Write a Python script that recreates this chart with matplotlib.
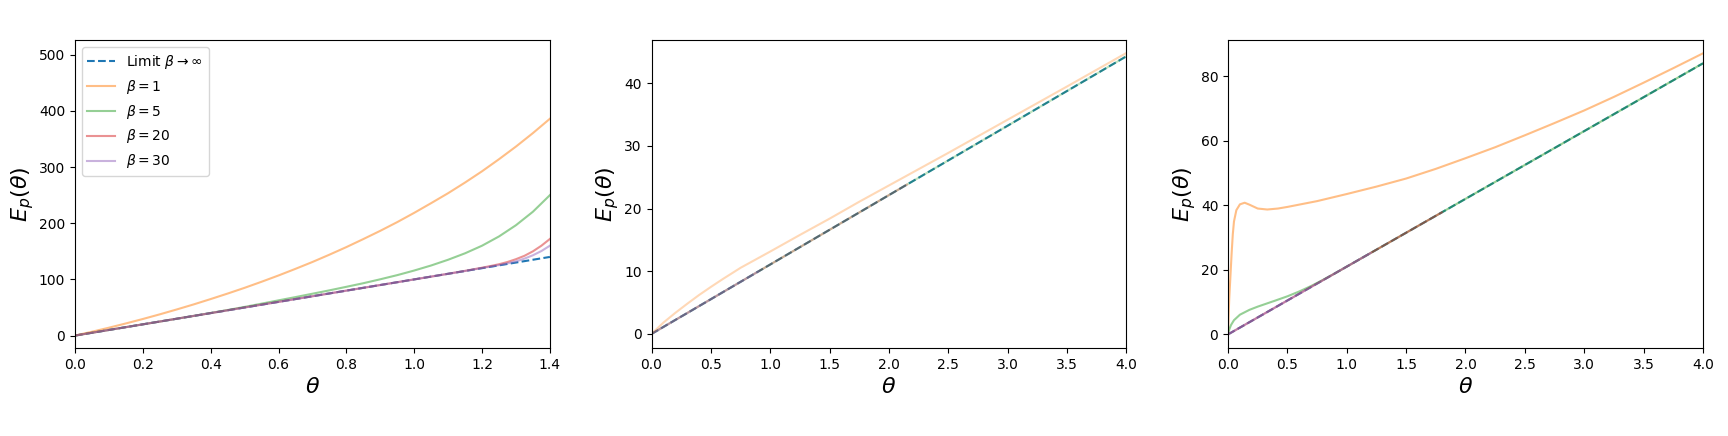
import numpy as np
import matplotlib
matplotlib.use('Agg')
import matplotlib.pyplot as plt

#==================== panel 1 : theta in [0, 1.4]
theta1       = [0.0, 0.05, 0.1, 0.15, 0.2, 0.25, 0.3, 0.35, 0.4, 0.45, 0.5, 0.55, 0.6, 0.65,
                0.7, 0.75, 0.8, 0.85, 0.9, 0.95, 1.0, 1.05, 1.1, 1.15, 1.2, 1.25, 1.3, 1.35, 1.4]
limit1       = [0, 5, 10, 15, 20, 25, 30, 35, 40, 45, 50, 55, 60, 65,
                70, 75, 80, 85, 90, 95, 100, 105, 110, 115, 120, 125, 130, 135, 140]
beta1_p1     = [0, 6.8, 14, 21.6, 29.5, 37.8, 46.5, 55.5, 65, 74.8, 85, 95.8, 107, 118.8,
                131, 144, 157.5, 171.8, 186.5, 202, 218.5, 235.8, 253.5, 272.5, 292.5, 314, 336.5, 360.5, 386]
beta5_p1     = [0, 5, 10, 15, 20, 25, 30, 35, 40.2, 45.5, 51, 56.8, 62.7, 68.5,
                74.5, 80.5, 86.8, 93.2, 100.2, 107.6, 115.8, 124.8, 135, 146.5, 160, 176.5, 196.5, 220.5, 250]
theta1_tail  = [0.0, 0.2, 0.4, 0.6, 0.8, 1.0, 1.1, 1.15, 1.2, 1.225, 1.25, 1.275, 1.3, 1.325, 1.35, 1.375, 1.4]
beta20_p1    = [0, 20, 40, 60, 80, 100, 110, 115.2, 120.8, 123.8, 127, 131, 136, 142, 150, 160, 172]
beta30_p1    = [0, 20, 40, 60, 80, 100, 110, 115, 120.3, 122.8, 125.5, 128.5, 132, 137, 143, 150.5, 160]

#==================== panel 2 : theta in [0, 4]
theta2       = [0.0, 0.05, 0.1, 0.2, 0.3, 0.4, 0.5, 0.6, 0.75, 1.0, 1.25, 1.5, 1.75, 2.0,
                2.5, 3.0, 3.5, 4.0]
limit2       = [0, 0.55, 1.11, 2.22, 3.32, 4.43, 5.54, 6.65, 8.31, 11.08, 13.85, 16.62, 19.39, 22.16,
                27.7, 33.24, 38.78, 44.32]
beta1_p2     = [0, 0.9, 1.8, 3.35, 4.8, 6.2, 7.5, 8.75, 10.55, 13.15, 15.8, 18.4, 21.1, 23.7,
                28.9, 34.2, 39.5, 44.85]
theta2_b20   = [0.0, 0.5, 1.0, 1.5, 2.0, 2.15]
beta20_p2    = [0, 5.54, 11.08, 16.62, 22.16, 23.82]
theta2_b30   = [0.0, 0.3, 0.6, 0.9]
beta30_p2    = [0, 3.32, 6.65, 9.97]

#==================== panel 3 : theta in [0, 4]
theta3       = [0.0, 0.5, 1.0, 1.5, 2.0, 2.5, 3.0, 3.5, 4.0]
limit3       = [0, 10.5, 21, 31.5, 42, 52.5, 63, 73.5, 84]
theta3_b1    = [0.0, 0.005, 0.01, 0.02, 0.03, 0.04, 0.05, 0.07, 0.1, 0.14, 0.18, 0.25,
                0.33, 0.42, 0.5, 0.75, 1.0, 1.25, 1.5, 1.75, 2.0, 2.25, 2.5, 2.75,
                3.0, 3.25, 3.5, 3.75, 4.0]
beta1_p3     = [0, 6, 11, 18, 25, 31, 35, 38.5, 40.3, 40.8, 40.2, 39.0,
                38.7, 39.0, 39.5, 41.3, 43.5, 45.8, 48.3, 51.3, 54.6, 58.0, 61.7, 65.5,
                69.4, 73.6, 78.0, 82.5, 87.1]
theta3_b5    = [0.0, 0.01, 0.025, 0.05, 0.1, 0.18, 0.25, 0.4, 0.5, 0.6, 0.7,
                0.8, 0.9, 1.0, 1.5, 2.0, 2.5, 3.0, 3.5, 4.0]
beta5_p3     = [0, 1.5, 2.9, 4.4, 6.1, 7.6, 8.6, 10.5, 11.8, 13.3, 15.0,
                16.9, 18.9, 21, 31.5, 42, 52.5, 63, 73.5, 84]
theta3_b20   = [0.0, 0.6, 1.2, 1.8]
beta20_p3    = [0, 12.6, 25.2, 37.8]
theta3_b30   = [0.0, 0.6, 1.2]
beta30_p3    = [0, 12.6, 25.2]

fig, axs = plt.subplots(1, 3, figsize=(17.28, 4.36), dpi=100)
fig.subplots_adjust(left=0.0434, right=0.9855, bottom=0.202, top=0.908, wspace=0.214)

#------ panel 1
ax = axs[0]
ax.plot(theta1, limit1, '--', color='tab:blue', label=r'Limit $\beta \rightarrow \infty$')
ax.plot(theta1, beta1_p1, color='tab:orange', alpha=0.5, label=r'$\beta = 1$')
ax.plot(theta1, beta5_p1, color='tab:green', alpha=0.5, label=r'$\beta = 5$')
ax.plot(theta1_tail, beta20_p1, color='tab:red', alpha=0.5, label=r'$\beta = 20$')
ax.plot(theta1_tail, beta30_p1, color='tab:purple', alpha=0.5, label=r'$\beta = 30$')
ax.set_xlim(0, 1.4)
ax.set_ylim(-22, 526)
ax.legend(loc='upper left')

#------ panel 2
ax = axs[1]
ax.plot(theta2, limit2, '--', color='tab:blue')
ax.plot(theta2, beta1_p2, color='tab:orange', alpha=0.3)
ax.plot(theta2, limit2, color='tab:green', alpha=0.3)
ax.plot(theta2_b20, beta20_p2, color='tab:red', alpha=0.3)
ax.plot(theta2_b30, beta30_p2, color='tab:purple', alpha=0.3)
ax.set_xlim(0, 4)
ax.set_ylim(-2.24, 46.9)

#------ panel 3
ax = axs[2]
ax.plot(theta3, limit3, '--', color='tab:blue')
ax.plot(theta3_b1, beta1_p3, color='tab:orange', alpha=0.5)
ax.plot(theta3_b5, beta5_p3, color='tab:green', alpha=0.5)
ax.plot(theta3_b20, beta20_p3, color='tab:red', alpha=0.5)
ax.plot(theta3_b30, beta30_p3, color='tab:purple', alpha=0.5)
ax.set_xlim(0, 4)
ax.set_ylim(-4.2, 91.2)

for ax in axs:
    ax.set_xlabel(r'$\theta$', fontsize=16)
    ax.set_ylabel(r'$E_p(\theta)$', fontsize=16, labelpad=2)

fig.savefig('out.png', dpi=100)
